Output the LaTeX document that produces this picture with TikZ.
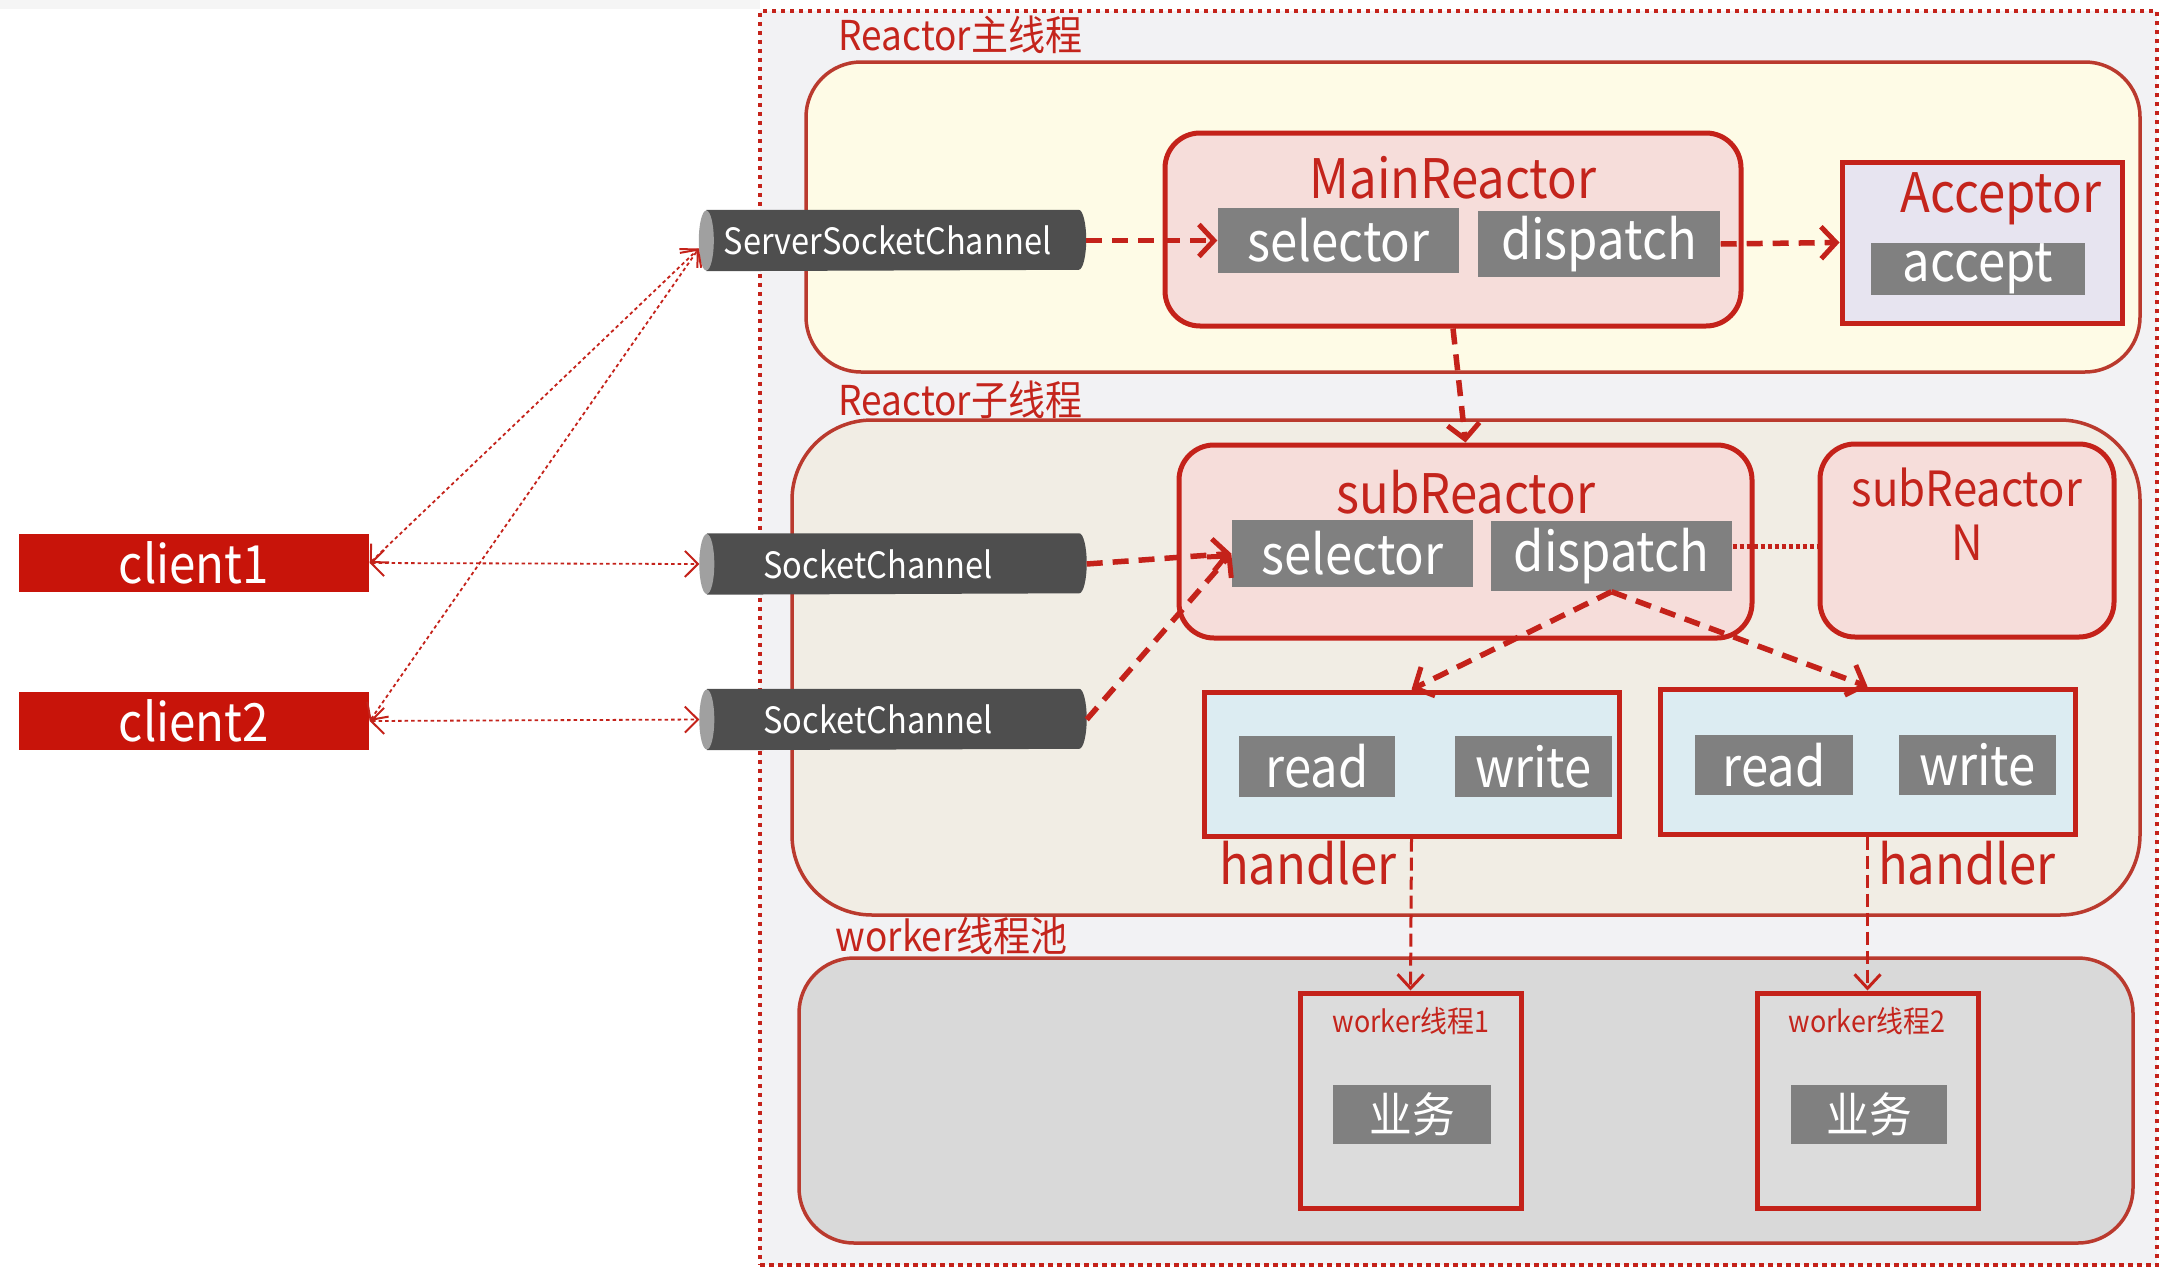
\documentclass[tikz,border=0pt]{standalone}
\usepackage{fontspec}
\setmainfont{Noto Sans CJK SC}[FakeStretch=0.9]
\usetikzlibrary{arrows.meta}
\definecolor{redline}{RGB}{196,34,26}
\definecolor{contred}{RGB}{186,58,46}
\definecolor{labred}{RGB}{196,36,28}
\definecolor{clientred}{RGB}{200,20,10}
\definecolor{chandark}{RGB}{78,78,78}
\definecolor{capgray}{RGB}{160,160,160}
\definecolor{boxgray}{RGB}{128,128,128}
\definecolor{outerbg}{RGB}{242,242,244}
\definecolor{yellowbg}{RGB}{254,251,230}
\definecolor{subbg}{RGB}{241,237,228}
\definecolor{poolbg}{RGB}{217,217,217}
\definecolor{pinkbg}{RGB}{246,221,218}
\definecolor{lavbg}{RGB}{231,228,240}
\definecolor{bluebg}{RGB}{220,236,242}
\definecolor{workerbg}{RGB}{220,220,220}
\begin{document}
\begin{tikzpicture}[x=0.1mm,y=-0.1mm,
  outerbox/.style={draw=redline, fill=outerbg, line width=0.45mm, dash pattern=on 0.45mm off 0.45mm, inner sep=0},
  container/.style={draw=contred, line width=0.35mm, rounded corners=5.5mm, inner sep=0},
  seclabel/.style={text=labred, inner sep=0, anchor=west, font=\fontsize{11.7pt}{13.5pt}\selectfont},
  redbox/.style={draw=redline, line width=0.5mm, fill=pinkbg, rounded corners=3.5mm, inner sep=0},
  sqbox/.style={draw=redline, line width=0.5mm, inner sep=0},
  graybox/.style={fill=boxgray, text=white, inner sep=0, font=\fontsize{15.5pt}{18pt}\selectfont},
  titletext/.style={text=labred, inner sep=0, font=\fontsize{15.5pt}{18pt}\selectfont},
  chan/.style={inner sep=0, minimum width=38.6mm, minimum height=6mm},
  chantext/.style={inner sep=0, text=white, font=\fontsize{10.3pt}{12pt}\selectfont},
  client/.style={fill=clientred, text=white, inner sep=0, minimum width=35mm, minimum height=5.8mm, font=\fontsize{15pt}{17pt}\selectfont},
  flow/.style={draw=redline, line width=0.55mm, dash pattern=on 1.6mm off 1mm, -{Straight Barb[length=1.5mm,width=3.2mm,line width=0.5mm]}},
  thinflow/.style={draw=redline, line width=0.3mm, dash pattern=on 1.3mm off 0.6mm, -{Straight Barb[length=1.4mm,width=2.6mm,line width=0.3mm]}},
  link/.style={draw=redline, line width=0.18mm, dash pattern=on 0.35mm off 0.3mm, {Straight Barb[length=1.3mm,width=2.6mm,line width=0.2mm]}-{Straight Barb[length=1.3mm,width=2.6mm,line width=0.2mm]}}
]
\useasboundingbox (0,0) rectangle (2175,1269);
\fill[gray!8] (0,0) rectangle (760,9);

% outer
\node[outerbox, minimum width=139.7mm, minimum height=125.4mm] (outer) at (1458.5,638) {};

% containers
\node[seclabel] (lab1) at (838,35) {Reactor主线程};
\node[container, fill=yellowbg, minimum width=133.4mm, minimum height=31mm] (mainth) at (1473,217) {};
\node[seclabel] (lab2) at (838,400) {Reactor子线程};
\node[container, fill=subbg, rounded corners=8mm, minimum width=134.8mm, minimum height=49.5mm] (subth) at (1466,667.5) {};
\node[seclabel] (lab3) at (835,936) {worker线程池};
\node[container, fill=poolbg, minimum width=133.4mm, minimum height=28.5mm] (pool) at (1466,1100.5) {};

% channels (cylinders)
\node[chan] (ssc) at (892.5,240.5) {};
\node[chan] (sc1) at (893,564) {};
\node[chan] (sc2) at (893,719.5) {};
\foreach \n in {ssc,sc1,sc2}{
  \fill[chandark] ([xshift=0.75mm]\n.north west) -- ([xshift=-0.75mm]\n.north east)
    arc[start angle=90,end angle=-90,x radius=0.75mm,y radius=3mm]
    -- ([xshift=0.75mm]\n.south west) -- cycle;
  \fill[capgray] ([xshift=0.75mm]\n.west) ellipse[x radius=0.75mm,y radius=3mm];
}
\node[chantext] (ssct) at ([xshift=-0.5mm]ssc.center) {ServerSocketChannel};
\node[chantext] (sc1t) at ([xshift=-1.5mm]sc1.center) {SocketChannel};
\node[chantext] (sc2t) at ([xshift=-1.5mm]sc2.center) {SocketChannel};

% clients
\node[client] (c1) at (194,563) {client1};
\node[client] (c2) at (194,721) {client2};

% main reactor
\node[redbox, minimum width=57.6mm, minimum height=19.3mm] (mr) at (1453,229.5) {};
\node[titletext] (mrt) at (1453,178) {MainReactor};
\node[graybox, minimum width=24.1mm, minimum height=6.5mm] (sel1) at (1338.5,240.5) {selector};
\node[graybox, minimum width=24.2mm, minimum height=6.6mm] (dis1) at (1599,244) {dispatch};
\node[sqbox, fill=lavbg, minimum width=28mm, minimum height=16.1mm] (acc) at (1982,242.5) {};
\node[titletext] (acct) at (2001,199) {Acceptor};
\node[graybox, minimum width=21.4mm, minimum height=5.2mm] (accb) at (1978,269) {accept};

% sub reactor
\node[redbox, minimum width=57.3mm, minimum height=19.3mm] (sr) at (1465.5,541.5) {};
\node[titletext] (srt) at (1466,492) {subReactor};
\node[graybox, minimum width=24.1mm, minimum height=6.7mm] (sel2) at (1352.5,553.5) {selector};
\node[graybox, minimum width=24.1mm, minimum height=7mm] (dis2) at (1611.5,556) {dispatch};
\node[redbox, minimum width=29.4mm, minimum height=19.3mm] (srn) at (1967,540.5) {};
\node[titletext, align=center, font=\fontsize{13.8pt}{15.5pt}\selectfont, anchor=north] (srnt) at (1967,467) {subReactor\\N};

% handlers
\node[sqbox, fill=bluebg, minimum width=41.5mm, minimum height=14.4mm] (h1) at (1411.5,764) {};
\node[graybox, minimum width=15.6mm, minimum height=6.1mm] (r1) at (1317,766.5) {read};
\node[graybox, minimum width=15.7mm, minimum height=6.1mm] (w1) at (1533.5,766.5) {write};
\node[sqbox, fill=bluebg, minimum width=41.5mm, minimum height=14.5mm] (h2) at (1867.5,761.5) {};
\node[graybox, minimum width=15.8mm, minimum height=6mm] (r2) at (1774,765) {read};
\node[graybox, minimum width=15.7mm, minimum height=6mm] (w2) at (1977.5,765) {write};
\node[titletext] (h1t) at (1308,863) {handler};
\node[titletext] (h2t) at (1967,863) {handler};

% workers
\node[sqbox, fill=workerbg, minimum width=22.1mm, minimum height=21.5mm] (wk1) at (1410.5,1100.5) {};
\node[titletext, font=\fontsize{8.5pt}{10pt}\selectfont] (wk1t) at (1411,1021) {worker线程1};
\node[graybox, font=\fontsize{13.5pt}{16pt}\selectfont, minimum width=15.8mm, minimum height=5.9mm] (biz1) at (1412,1114.5) {业务};
\node[sqbox, fill=workerbg, minimum width=22.1mm, minimum height=21.5mm] (wk2) at (1867.5,1100.5) {};
\node[titletext, font=\fontsize{8.5pt}{10pt}\selectfont] (wk2t) at (1867,1021) {worker线程2};
\node[graybox, font=\fontsize{13.5pt}{16pt}\selectfont, minimum width=15.6mm, minimum height=5.9mm] (biz2) at (1869,1114.5) {业务};

% connectors
\draw[flow] (ssc.east) -- (sel1.west);
\draw[flow] (dis1.east) -- (acc.west);
\draw[flow] (mr.south) -- (sr.north);
\draw[flow] (sc1.east) -- (sel2.west);
\draw[flow] (sc2.east) -- (sel2.west);
\draw[flow] (dis2.south) -- (h1.north);
\draw[flow] (dis2.south) -- (h2.north);
\draw[draw=redline, line width=0.5mm, dash pattern=on 0.4mm off 0.3mm] ([yshift=1mm]dis2.east) -- ([yshift=1mm]dis2.east -| srn.west);
\draw[thinflow] (h1.south) -- (wk1.north);
\draw[thinflow] (h2.south) -- (wk2.north);

\draw[link] (c1.east) -- (sc1.west);
\draw[link] (c2.east) -- (sc2.west);
\draw[link] (c1.east) -- ([yshift=-0.8mm]ssc.west);
\draw[link] (c2.east) -- ([yshift=-0.8mm]ssc.west);
\end{tikzpicture}
\end{document}
